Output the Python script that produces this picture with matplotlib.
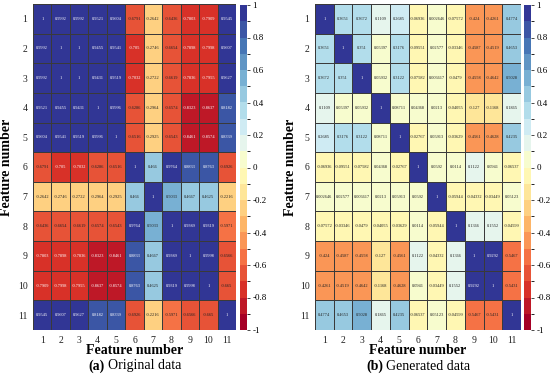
import numpy as np
import matplotlib
matplotlib.use("Agg")
import matplotlib.pyplot as plt
from matplotlib.colors import ListedColormap, BoundaryNorm

plt.rcParams['font.family'] = ['Liberation Serif', 'DejaVu Serif']

features = [str(i) for i in range(1, 12)]

orig_rows = [
    [1, 0.9992, 0.9992, 0.9521, 0.9604, -0.6791, -0.2642, -0.6436, -0.7803, -0.7909, 0.9545],
    [0.9992, 1, 1, 0.9455, 0.9541, -0.705, -0.2746, -0.6654, -0.7898, -0.7998, 0.9607],
    [0.9992, 1, 1, 0.9431, 0.9519, -0.7032, -0.2722, -0.6619, -0.7836, -0.7955, 0.9627],
    [0.9521, 0.9455, 0.9431, 1, 0.9996, -0.6286, -0.2964, -0.6574, -0.8323, -0.8637, 0.8182],
    [0.9604, 0.9541, 0.9519, 0.9996, 1, -0.6516, -0.2925, -0.6543, -0.8461, -0.8574, 0.8339],
    [-0.6791, -0.705, -0.7032, -0.6286, -0.6516, 1, 0.466, 0.9764, 0.8833, 0.8763, -0.6926],
    [-0.2642, -0.2746, -0.2722, -0.2964, -0.2925, 0.466, 1, 0.5033, 0.4667, 0.4625, -0.2216],
    [-0.6436, -0.6654, -0.6619, -0.6574, -0.6543, 0.9764, 0.5033, 1, 0.9389, 0.9319, -0.5971],
    [-0.7803, -0.7898, -0.7836, -0.8323, -0.8461, 0.8833, 0.4667, 0.9389, 1, 0.9998, -0.6566],
    [-0.7909, -0.7998, -0.7955, -0.8637, -0.8574, 0.8763, 0.4625, 0.9319, 0.9998, 1, -0.665],
    [0.9545, 0.9607, 0.9627, 0.8182, 0.8339, -0.6926, -0.2216, -0.5971, -0.6566, -0.665, 1],
]

gen_rows = [
    [1, 0.3651, 0.3672, 0.1109, 0.2685, -0.06936, 0.002646, -0.07572, -0.424, -0.4261, 0.4774],
    [0.3651, 1, 0.351, 0.05397, 0.3176, -0.09551, 0.02577, -0.03346, -0.4587, -0.4519, 0.4653],
    [0.3672, 0.351, 1, 0.05932, 0.3122, -0.07582, 0.006617, -0.0479, -0.4558, -0.4642, 0.5028],
    [0.1109, 0.05397, 0.05932, 1, 0.08711, 0.04368, 0.0213, -0.04055, -0.127, -0.1168, 0.1865],
    [0.2685, 0.3176, 0.3122, 0.08711, 1, -0.02767, 0.05913, -0.03629, -0.4561, -0.4628, 0.4235],
    [-0.06936, -0.09551, -0.07582, 0.04368, -0.02767, 1, 0.0592, 0.0114, 0.1122, 0.0941, -0.06537],
    [0.002646, 0.02577, 0.006617, 0.0213, 0.05913, 0.0592, 1, -0.05944, -0.04332, -0.03449, 0.05123],
    [-0.07572, -0.03346, -0.0479, -0.04055, -0.03629, 0.0114, -0.05944, 1, 0.1366, 0.1552, -0.04599],
    [-0.424, -0.4587, -0.4558, -0.127, -0.4561, 0.1122, -0.04332, 0.1366, 1, 0.9292, -0.5467],
    [-0.4261, -0.4519, -0.4642, -0.1168, -0.4628, 0.0941, -0.03449, 0.1552, 0.9292, 1, -0.5431],
    [0.4774, 0.4653, 0.5028, 0.1865, 0.4235, -0.06537, 0.05123, -0.04599, -0.5467, -0.5431, 1],
]

cbar_ticks = [-1, -0.8, -0.6, -0.4, -0.2, 0, 0.2, 0.4, 0.6, 0.8, 1]

W, H = 550, 374
fig = plt.figure(figsize=(W / 100, H / 100), dpi=100)

base = plt.get_cmap('RdYlBu')
nb = 20
cmap = ListedColormap([base(i / (nb - 1)) for i in range(nb)])
bounds = np.linspace(-1, 1, nb + 1)
norm = BoundaryNorm(bounds, cmap.N)


def px(x0, y0, x1, y1):
    return [x0 / W, 1 - y1 / H, (x1 - x0) / W, (y1 - y0) / H]


def panel(data, hm_rect, cb_rect, letter, title, ylab_x):
    M = np.array(data)
    ax = fig.add_axes(px(*hm_rect))
    ax.pcolormesh(np.arange(12) + 0.5, np.arange(12) + 0.5, M, cmap=cmap, norm=norm,
                  edgecolor='#3a3a3a', linewidth=0.5)
    ax.set_xlim(0.5, 11.5)
    ax.set_ylim(11.5, 0.5)
    ax.set_xticks(range(1, 12))
    ax.set_xticklabels(features)
    ax.set_yticks(range(1, 12))
    ax.set_yticklabels(features)
    ax.tick_params(labelsize=7, length=0, pad=4, colors='#222222')
    for s in ax.spines.values():
        s.set_visible(False)
    for i in range(11):
        for j in range(11):
            v = M[i, j]
            txt = '1' if v == 1 else ('%g' % v)
            col = 'white' if (v > 0.6 or v < -0.7) else '#222222'
            ax.text(j + 1, i + 1, txt, ha='center', va='center', fontsize=3.2, color=col)
    cax = fig.add_axes(px(*cb_rect))
    cb = fig.colorbar(plt.cm.ScalarMappable(norm=norm, cmap=cmap), cax=cax,
                      ticks=cbar_ticks, drawedges=False)
    cb.ax.set_yticklabels(['%g' % t for t in cbar_ticks])
    cb.ax.tick_params(labelsize=6.5, length=2, width=0.5, pad=2)
    cb.outline.set_visible(False)
    cx = (hm_rect[0] + hm_rect[2]) / 2
    fig.text(cx / W, 1 - 350 / H, 'Feature number', ha='center', va='center',
             fontsize=10, fontweight='bold')
    fig.text(ylab_x / W, 1 - ((hm_rect[1] + hm_rect[3]) / 2) / H, 'Feature number',
             ha='center', va='center', rotation=90, fontsize=10, fontweight='bold')
    t1 = fig.text(cx / W, 1 - 366 / H, letter + ' ' + title, ha='center', va='center',
                  fontsize=10, alpha=0)
    fig.canvas.draw()
    bb = t1.get_window_extent()
    x0 = bb.x0
    ta = fig.text(x0 / W, 1 - 366 / H, letter, ha='left', va='center', fontsize=10,
                  fontweight='bold')
    fig.canvas.draw()
    b2 = ta.get_window_extent()
    fig.text((b2.x1 + 3) / W, 1 - 366 / H, title, ha='left', va='center', fontsize=10)


panel(orig_rows, (33, 4, 236, 330), (240, 5, 247, 330), '(a)', 'Original data', 7)
panel(gen_rows, (315, 4, 521, 330), (524, 5, 531, 330), '(b)', 'Generated data', 291)

fig.savefig('out.png', dpi=100)
